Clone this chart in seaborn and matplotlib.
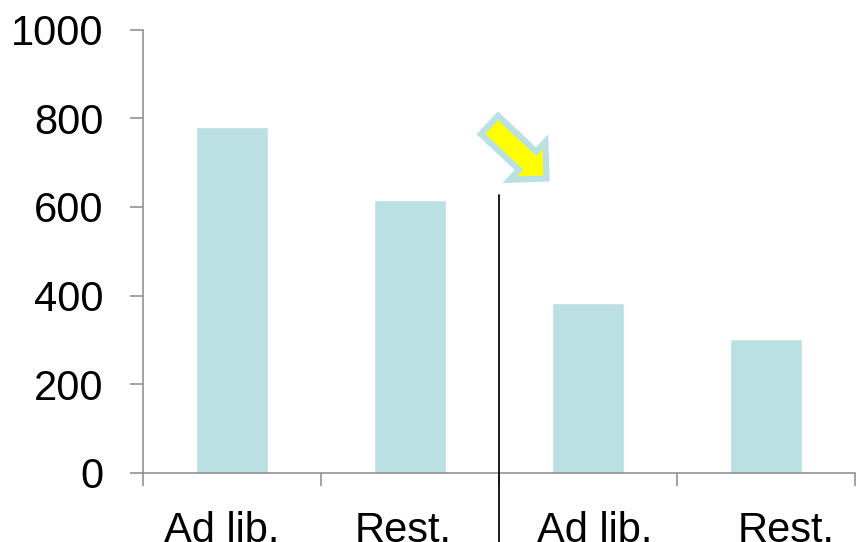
import matplotlib
matplotlib.use("Agg")
import matplotlib.pyplot as plt
import matplotlib.transforms as mtransforms
from matplotlib.patches import FancyArrow
import seaborn as sns
import pandas as pd

# Food intake by feeding regimen, two experiments side by side
groups = ["A_adlib", "A_rest", "B_adlib", "B_rest"]
tick_labels = ["Ad lib.", "Rest.", "Ad lib.", "Rest."]
values = [780, 615, 383, 302]
label_shift_px = [-10, -6.5, 6.5, 20]

bar_color = "#bbe0e3"
axis_gray = "#898989"

sns.set_theme(style="white")
plt.rcParams["font.family"] = ["Liberation Sans", "DejaVu Sans"]

df = pd.DataFrame({"group": groups, "value": values})

fig = plt.figure(figsize=(8.56, 5.42), dpi=100)
ax = fig.add_axes([143 / 856, 69 / 542, 712 / 856, 443.5 / 542])

sns.barplot(data=df, x="group", y="value", order=groups, color=bar_color,
            width=0.4, saturation=1, ax=ax, errorbar=None)

ax.set_xlim(-0.5, len(groups) - 0.5)
ax.set_ylim(0, 1000)
ax.set_yticks([0, 200, 400, 600, 800, 1000])
ax.set_xlabel("")
ax.set_ylabel("")

for side in ("top", "right"):
    ax.spines[side].set_visible(False)
for side in ("left", "bottom"):
    ax.spines[side].set_color(axis_gray)
    ax.spines[side].set_linewidth(1.1)

# boundary ticks between categories, labels centred under the bars
ax.set_xticks([i - 0.5 for i in range(len(groups) + 1)])
ax.set_xticklabels([])
ax.set_xticks(range(len(groups)), minor=True)
ax.set_xticklabels(tick_labels, minor=True)
ax.tick_params(axis="x", which="major", direction="out", length=9.5, width=1.1,
               color=axis_gray, bottom=True)
ax.tick_params(axis="x", which="minor", length=0, pad=27, labelsize=30,
               labelcolor="black", bottom=True)
ax.tick_params(axis="y", direction="out", length=9.5, width=1.1, color=axis_gray,
               pad=19, labelsize=30, labelcolor="black", left=True)

for lab, dx in zip(ax.get_xticklabels(minor=True), label_shift_px):
    lab.set_transform(lab.get_transform() +
                      mtransforms.ScaledTranslation(dx / 100, 0, fig.dpi_scale_trans))

# divider between the two experiments
ax.plot([1.5, 1.5], [627, -200], color="black", lw=1.25, clip_on=False, zorder=5)

# highlight arrow pointing at the second experiment
arrow = FancyArrow(4.895, 4.17, 0.57, -0.535, width=0.25, head_width=0.52,
                   head_length=0.26, length_includes_head=True,
                   transform=fig.dpi_scale_trans, facecolor="#ffff00",
                   edgecolor=bar_color, linewidth=4.5, joinstyle="miter")
fig.add_artist(arrow)

fig.savefig("out.png", dpi=100)
